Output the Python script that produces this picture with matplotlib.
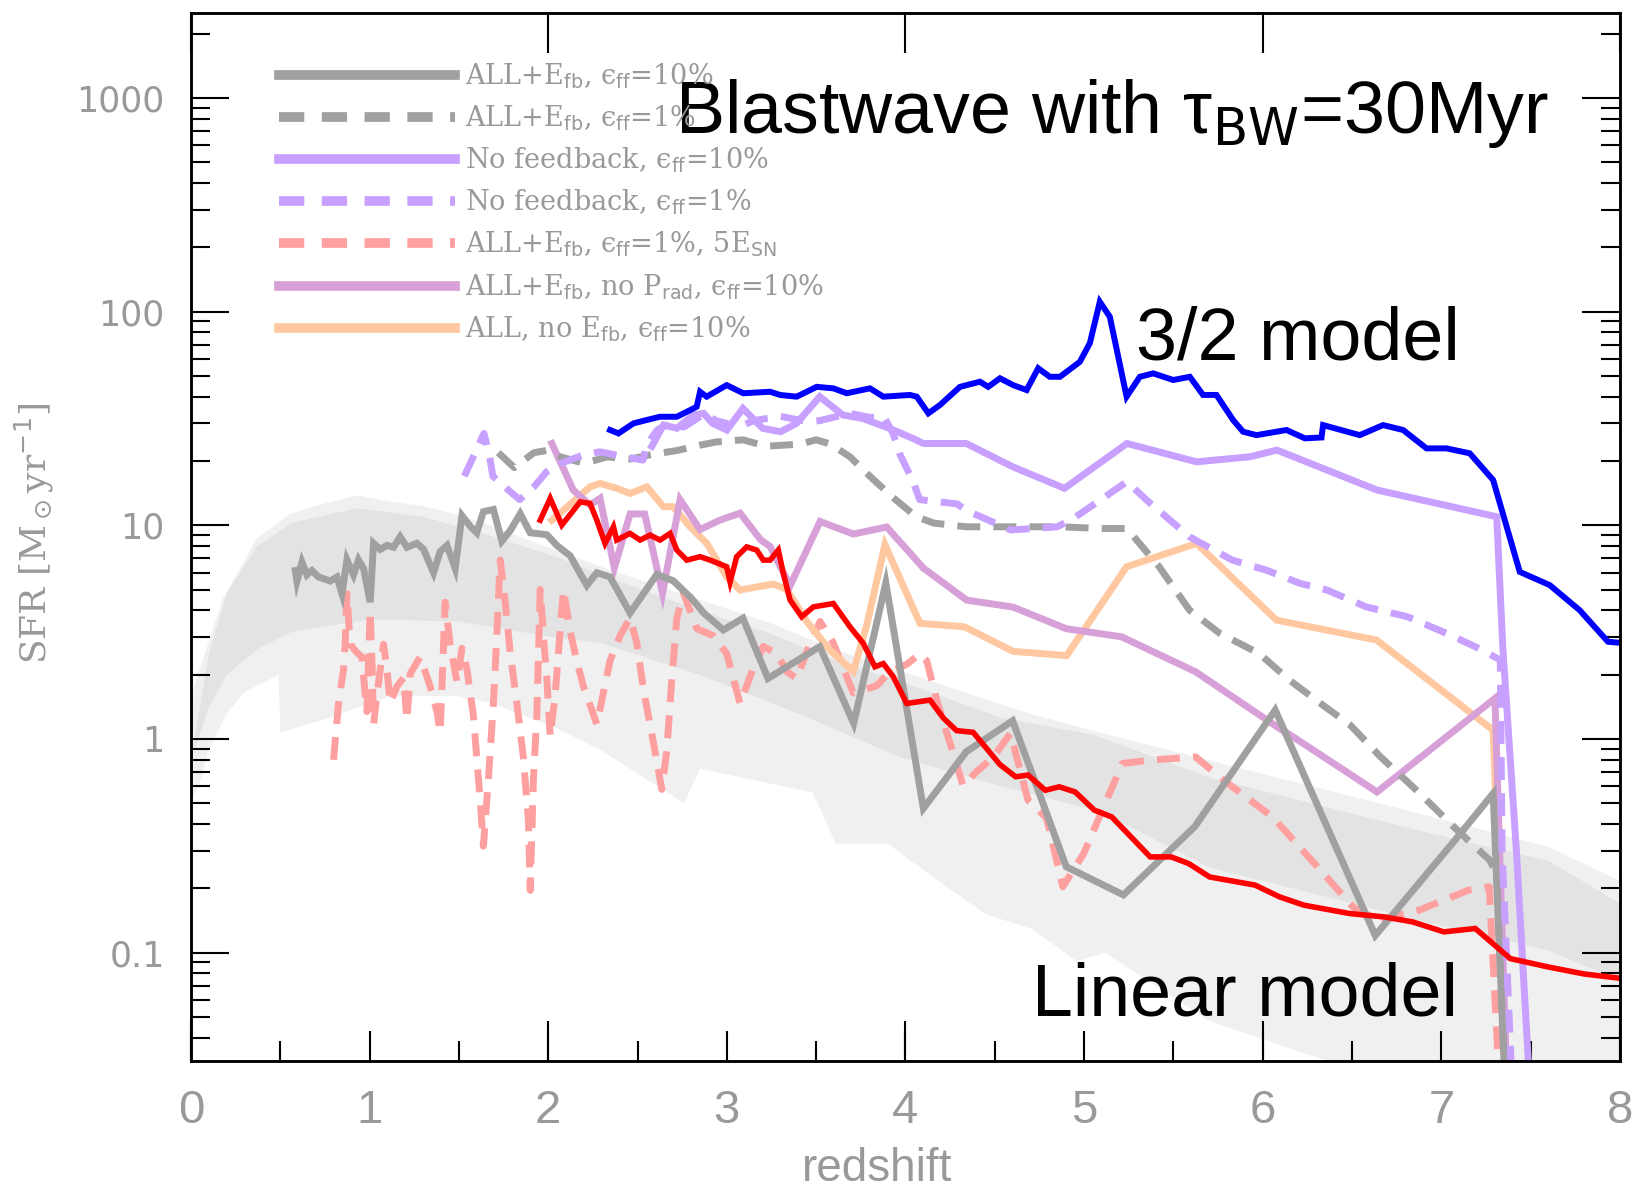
import numpy as np
import matplotlib.pyplot as plt
from matplotlib.lines import Line2D
from matplotlib.ticker import FixedLocator, LogLocator, NullFormatter, FormatStrFormatter

# star formation histories: redshift and log10(SFR / Msun yr^-1) for each run

# ALL+E_fb, eps_ff = 10%
z_fb10 = [0.584, 0.593, 0.621, 0.649, 0.677, 0.714, 0.779, 0.817, 0.845, 0.873,
          0.910, 0.938, 0.966, 1.003, 1.022, 1.059, 1.097, 1.134, 1.171, 1.209,
          1.265, 1.302, 1.358, 1.395, 1.433, 1.479, 1.517, 1.563, 1.600, 1.637,
          1.693, 1.740, 1.787, 1.843, 1.899, 1.992, 2.048, 2.123, 2.216, 2.272,
          2.346, 2.458, 2.608, 2.70, 2.80, 2.87, 2.98, 3.09, 3.23, 3.52,
          3.71, 3.89, 4.10, 4.34, 4.60, 4.90, 5.22, 5.62, 6.07, 6.63,
          7.09, 7.29, 7.36]
lsfr_fb10 = [0.788, 0.739, 0.828, 0.768, 0.788, 0.758, 0.739, 0.758, 0.680, 0.838,
             0.768, 0.838, 0.798, 0.640, 0.916, 0.887, 0.906, 0.897, 0.946, 0.897,
             0.916, 0.887, 0.778, 0.877, 0.906, 0.798, 1.045, 0.995, 0.965, 1.064,
             1.074, 0.926, 0.975, 1.054, 0.965, 0.956, 0.906, 0.857, 0.719, 0.778,
             0.758, 0.59, 0.77, 0.74, 0.66, 0.59, 0.51, 0.565, 0.283, 0.432,
             0.073, 0.73, -0.325, -0.06, 0.085, -0.598, -0.73, -0.41, 0.135, -0.92,
             -0.46, -0.255, -1.7]

# ALL+E_fb, eps_ff = 1%
z_fb1 = [1.72, 1.81, 1.92, 1.99, 2.07, 2.20, 2.33, 2.46, 2.57, 2.72,
         2.85, 2.94, 3.09, 3.22, 3.41, 3.50, 3.58, 3.69, 3.80, 3.93,
         4.06, 4.16, 4.34, 4.59, 4.87, 5.09, 5.24, 5.31, 5.42, 5.59,
         5.76, 5.98, 6.15, 6.35, 6.49, 6.66, 6.88, 7.07, 7.27, 7.31, 7.36]
lsfr_fb1 = [1.34, 1.27, 1.34, 1.35, 1.32, 1.29, 1.32, 1.31, 1.33, 1.35,
            1.375, 1.39, 1.40, 1.37, 1.38, 1.40, 1.38, 1.32, 1.23, 1.13,
            1.04, 1.01, 0.993, 0.993, 0.993, 0.985, 0.985, 0.915, 0.806, 0.603,
            0.494, 0.40, 0.275, 0.15, 0.065, -0.084, -0.255, -0.412, -0.567, -0.63, -1.7]

# no feedback, eps_ff = 10%
z_nofb10 = [2.58, 2.645, 2.72, 2.81, 2.87, 2.92, 3.00, 3.09, 3.20, 3.30,
            3.39, 3.52, 3.65, 3.76, 3.91, 4.04, 4.10, 4.34, 4.60, 4.89,
            5.24, 5.63, 5.93, 6.08, 6.64, 7.31, 7.345, 7.42, 7.50]
lsfr_nofb10 = [1.37, 1.469, 1.454, 1.516, 1.524, 1.477, 1.446, 1.547, 1.454, 1.438,
               1.477, 1.602, 1.516, 1.500, 1.454, 1.407, 1.383, 1.383, 1.274, 1.173,
               1.383, 1.297, 1.321, 1.352, 1.165, 1.04, 0.416, -0.52, -1.7]

# no feedback, eps_ff = 1%
z_nofb1 = [1.53, 1.58, 1.64, 1.67, 1.69, 1.77, 1.84, 1.92, 1.99, 2.07,
           2.20, 2.29, 2.37, 2.53, 2.55, 2.61, 2.66, 2.76, 2.87, 2.94,
           3.07, 3.15, 3.30, 3.45, 3.52, 3.69, 3.80, 3.88, 3.93, 3.97,
           4.04, 4.08, 4.29, 4.34, 4.59, 4.85, 4.94, 5.24, 5.35, 5.59,
           5.83, 6.02, 6.21, 6.36, 6.58, 6.81, 7.03, 7.23, 7.33, 7.34, 7.40]
lsfr_nofb1 = [1.23, 1.32, 1.43, 1.33, 1.23, 1.17, 1.12, 1.18, 1.25, 1.29,
              1.33, 1.344, 1.33, 1.305, 1.375, 1.446, 1.469, 1.46, 1.52, 1.49,
              1.46, 1.49, 1.51, 1.485, 1.49, 1.524, 1.505, 1.508, 1.43, 1.33,
              1.21, 1.12, 1.10, 1.07, 0.978, 0.993, 1.032, 1.204, 1.118, 0.946,
              0.837, 0.790, 0.728, 0.697, 0.618, 0.572, 0.494, 0.416, 0.369, -0.52, -1.7]

# ALL+E_fb, eps_ff = 1%, 5 E_SN
z_5sn = [0.798, 0.826, 0.854, 0.863, 0.873, 0.891, 0.929, 0.957, 0.975, 0.985,
         1.003, 1.013, 1.022, 1.041, 1.078, 1.097, 1.115, 1.153, 1.190, 1.209,
         1.227, 1.283, 1.339, 1.377, 1.395, 1.423, 1.451, 1.489, 1.517, 1.545,
         1.581, 1.619, 1.637, 1.665, 1.693, 1.712, 1.731, 1.759, 1.787, 1.824,
         1.861, 1.889, 1.899, 1.917, 1.936, 1.955, 1.973, 1.992, 2.011, 2.039,
         2.057, 2.085, 2.123, 2.160, 2.197, 2.272, 2.346, 2.402, 2.458, 2.496,
         2.533, 2.589, 2.636, 2.664, 2.692, 2.720, 2.757, 2.832, 2.925, 2.999,
         3.074, 3.148, 3.204, 3.279, 3.335, 3.391, 3.466, 3.522, 3.596, 3.708,
         3.839, 3.913, 4.007, 4.081, 4.119, 4.175, 4.249, 4.323, 4.398, 4.491,
         4.588, 4.686, 4.790, 4.881, 4.998, 5.214, 5.370, 5.625, 5.781, 6.055,
         6.290, 6.505, 6.642, 6.877, 7.151, 7.268, 7.33]
lsfr_5sn = [-0.098, 0.168, 0.325, 0.443, 0.680, 0.443, 0.404, 0.384, 0.207, 0.128,
            0.601, 0.364, 0.069, 0.207, 0.443, 0.325, 0.168, 0.246, 0.286, 0.088,
            0.305, 0.384, 0.246, 0.128, 0.030, 0.640, 0.443, 0.266, 0.424, 0.325,
            0.108, -0.286, -0.502, -0.187, 0.168, 0.483, 0.838, 0.640, 0.404, 0.168,
            -0.088, -0.384, -0.709, -0.187, 0.108, 0.699, 0.483, 0.286, 0.010, 0.207,
            0.404, 0.699, 0.502, 0.365, 0.246, 0.069, 0.366, 0.483, 0.566, 0.449,
            0.232, -0.019, -0.236, -0.052, 0.282, 0.566, 0.683, 0.516, 0.483, 0.399,
            0.165, 0.332, 0.433, 0.399, 0.316, 0.282, 0.449, 0.550, 0.449, 0.215,
            0.249, 0.316, 0.349, 0.399, 0.366, 0.182, -0.019, -0.220, -0.153, -0.086,
            0.026, -0.287, -0.370, -0.692, -0.536, -0.115, -0.099, -0.084, -0.193, -0.365,
            -0.583, -0.786, -0.848, -0.801, -0.708, -0.692, -1.7]

# ALL+E_fb, no P_rad, eps_ff = 10%
z_noprad = [2.02, 2.14, 2.234, 2.29, 2.37, 2.458, 2.54, 2.64, 2.738, 2.85,
            2.96, 3.074, 3.19, 3.242, 3.354, 3.522, 3.708, 3.895, 4.10, 4.342,
            4.603, 4.90, 5.21, 5.625, 6.094, 6.17, 6.64, 7.30, 7.37]
lsfr_noprad = [1.383, 1.165, 1.095, 1.126, 0.80, 1.053, 1.053, 0.682, 1.12, 0.98,
               1.024, 1.057, 0.931, 0.901, 0.717, 1.018, 0.959, 0.992, 0.80, 0.65,
               0.617, 0.516, 0.478, 0.314, 0.049, 0.01, -0.248, 0.19, -1.7]

# ALL, no E_fb, eps_ff = 10%
z_noefb = [2.02, 2.085, 2.234, 2.29, 2.384, 2.458, 2.552, 2.645, 2.70, 2.794,
           2.888, 2.999, 3.074, 3.26, 3.335, 3.447, 3.577, 3.708, 3.783, 3.885,
           4.081, 4.33, 4.603, 4.902, 5.238, 5.63, 6.077, 6.637, 7.29, 7.37]
lsfr_noefb = [1.024, 1.071, 1.18, 1.196, 1.173, 1.149, 1.18, 1.087, 1.087, 0.993,
              0.915, 0.759, 0.697, 0.725, 0.70, 0.55, 0.416, 0.316, 0.533, 0.909,
              0.541, 0.525, 0.41, 0.39, 0.806, 0.915, 0.556, 0.463, 0.041, -1.7]

# blastwave, tau_BW = 30 Myr, 3/2 model
z_bw32 = [2.346, 2.393, 2.477, 2.552, 2.626, 2.720, 2.794, 2.831, 2.850, 2.887,
          2.999, 3.092, 3.242, 3.298, 3.391, 3.503, 3.596, 3.671, 3.801, 3.876,
          4.025, 4.063, 4.128, 4.193, 4.305, 4.417, 4.463, 4.529, 4.603, 4.678,
          4.743, 4.808, 4.865, 4.976, 5.032, 5.088, 5.144, 5.238, 5.312, 5.387,
          5.499, 5.592, 5.666, 5.741, 5.834, 5.890, 5.965, 6.133, 6.236, 6.329,
          6.338, 6.543, 6.674, 6.786, 6.917, 7.029, 7.159, 7.290, 7.439, 7.607,
          7.774, 7.933, 8.0]
lsfr_bw32 = [1.446, 1.430, 1.477, 1.493, 1.508, 1.508, 1.539, 1.555, 1.625, 1.602,
             1.656, 1.618, 1.625, 1.610, 1.602, 1.648, 1.641, 1.618, 1.641, 1.602,
             1.610, 1.602, 1.524, 1.563, 1.648, 1.672, 1.648, 1.688, 1.656, 1.633,
             1.735, 1.695, 1.695, 1.765, 1.852, 2.046, 1.976, 1.602, 1.695, 1.711,
             1.680, 1.695, 1.610, 1.610, 1.493, 1.438, 1.422, 1.446, 1.407, 1.411,
             1.469, 1.422, 1.469, 1.446, 1.360, 1.360, 1.337, 1.212, 0.782, 0.720,
             0.603, 0.455, 0.450]

# blastwave, tau_BW = 30 Myr, linear model
z_bwlin = [1.955, 2.011, 2.076, 2.179, 2.234, 2.272, 2.318, 2.365, 2.383, 2.458,
           2.514, 2.570, 2.626, 2.682, 2.720, 2.776, 2.850, 2.906, 2.999, 3.018,
           3.055, 3.111, 3.167, 3.204, 3.242, 3.288, 3.316, 3.354, 3.419, 3.484,
           3.596, 3.689, 3.764, 3.829, 3.876, 3.932, 4.007, 4.137, 4.212, 4.286,
           4.379, 4.529, 4.617, 4.686, 4.783, 4.861, 4.950, 5.057, 5.155, 5.370,
           5.487, 5.585, 5.703, 5.957, 6.094, 6.231, 6.486, 6.681, 6.838, 7.014,
           7.190, 7.386, 7.597, 7.80, 8.0]
lsfr_bwlin = [1.024, 1.126, 1.001, 1.110, 1.102, 1.024, 0.915, 0.993, 0.931, 0.962,
              0.931, 0.954, 0.931, 0.962, 0.884, 0.837, 0.853, 0.837, 0.806, 0.735,
              0.853, 0.899, 0.884, 0.837, 0.837, 0.884, 0.775, 0.650, 0.572, 0.618,
              0.634, 0.525, 0.447, 0.338, 0.353, 0.291, 0.166, 0.182, 0.098, 0.039,
              0.031, -0.12, -0.177, -0.169, -0.240, -0.224, -0.248, -0.333, -0.365, -0.552,
              -0.552, -0.583, -0.646, -0.684, -0.739, -0.778, -0.817, -0.833, -0.856, -0.903,
              -0.887, -1.028, -1.067, -1.10, -1.12]

# observational envelopes (outer and inner), upper and lower edges
env_out_up_z = [0.0, 0.07, 0.18, 0.37, 0.56, 0.74, 0.93, 1.12, 1.30, 1.49, 1.68, 1.86, 2.05,
                2.35, 2.85, 3.22, 3.60, 3.97, 4.34, 4.71, 5.09, 5.70, 6.88, 7.60, 8.0]
env_out_up = [0.2, 0.38, 0.66, 0.94, 1.055, 1.10, 1.14, 1.11, 1.09, 1.05, 1.0, 0.94, 0.88,
              0.79, 0.65, 0.55, 0.42, 0.32, 0.215, 0.115, 0.03, -0.10, -0.35, -0.505, -0.665]
env_out_lo_z = [0.0, 0.05, 0.1, 0.2, 0.3, 0.49, 0.5, 0.74, 1.115, 1.49, 1.675, 2.05, 2.29,
                2.76, 2.85, 3.48, 3.61, 3.90, 4.16, 4.45, 4.71, 4.96, 5.12, 5.70, 6.55, 8.0]
env_out_lo = [-0.3, -0.2, -0.05, 0.12, 0.22, 0.30, 0.03, 0.09, 0.20, 0.20, 0.17, 0.05, -0.05,
              -0.30, -0.14, -0.25, -0.49, -0.49, -0.65, -0.82, -0.89, -1.04, -1.0, -1.32, -1.56, -1.8]
env_in_up_z = [0.02, 0.1, 0.2, 0.37, 0.56, 0.93, 1.3, 1.68, 2.05, 2.29,
               2.85, 3.22, 3.60, 3.97, 4.53, 5.05, 5.70, 6.88, 7.60, 8.0]
env_in_up = [0.0, 0.4, 0.68, 0.90, 1.01, 1.08, 1.04, 0.95, 0.85, 0.77,
             0.60, 0.50, 0.37, 0.27, 0.10, 0.02, -0.18, -0.43, -0.57, -0.77]
env_in_lo_z = [0.02, 0.1, 0.2, 0.37, 0.56, 1.0, 1.5, 2.0, 2.29,
               2.85, 3.41, 3.97, 4.53, 5.09, 5.70, 6.88, 7.60, 8.0]
env_in_lo = [-0.05, 0.15, 0.3, 0.42, 0.50, 0.56, 0.55, 0.48, 0.45,
             0.30, 0.115, -0.086, -0.22, -0.34, -0.60, -0.85, -0.99, -1.13]

labels = [r"ALL+E$_{\rm fb}$, ϵ$_{\rm ff}$=10%",
          r"ALL+E$_{\rm fb}$, ϵ$_{\rm ff}$=1%",
          r"No feedback, ϵ$_{\rm ff}$=10%",
          r"No feedback, ϵ$_{\rm ff}$=1%",
          r"ALL+E$_{\rm fb}$, ϵ$_{\rm ff}$=1%, 5E$_{\rm SN}$",
          r"ALL+E$_{\rm fb}$, no P$_{\rm rad}$, ϵ$_{\rm ff}$=10%",
          r"ALL, no E$_{\rm fb}$, ϵ$_{\rm ff}$=10%"]

grey = '#a0a0a0'
lilac = '#c8a0ff'
pink = '#ffa0a0'
orchid = '#d8a0d8'
peach = '#ffc8a0'
txt = '#999999'
dash = (0, (3.3, 1.9))
legdash = (0, (2.6, 1.8))

fig = plt.figure(figsize=(16.34, 11.91), dpi=100)
ax = fig.add_axes([0.1169, 0.1092, 0.8745, 0.8803])
ax.set_yscale('log')

ax.fill(np.r_[env_out_up_z, env_out_lo_z[::-1]],
        10 ** np.r_[env_out_up, env_out_lo[::-1]], color='#f0f0f0', lw=0, zorder=0)
ax.fill(np.r_[env_in_up_z, env_in_lo_z[::-1]],
        10 ** np.r_[env_in_up, env_in_lo[::-1]], color='#e3e3e3', lw=0, zorder=0.5)

def run(z, lsfr, **kw):
    ax.plot(z, 10 ** np.asarray(lsfr), solid_joinstyle='miter', **kw)

run(z_5sn, lsfr_5sn, color=pink, lw=5, ls=dash)
run(z_noefb, lsfr_noefb, color=peach, lw=5)
run(z_noprad, lsfr_noprad, color=orchid, lw=5)
run(z_fb1, lsfr_fb1, color=grey, lw=5, ls=dash)
run(z_fb10, lsfr_fb10, color=grey, lw=5)
run(z_nofb1, lsfr_nofb1, color=lilac, lw=5, ls=dash)
run(z_nofb10, lsfr_nofb10, color=lilac, lw=5)
run(z_bwlin, lsfr_bwlin, color='#ff0000', lw=4)
run(z_bw32, lsfr_bw32, color='#0000ff', lw=4.3)

ax.set_xlim(0, 8)
ax.set_ylim(10 ** -1.507, 10 ** 3.40)

ax.xaxis.set_major_locator(FixedLocator(range(9)))
ax.xaxis.set_minor_locator(FixedLocator(np.arange(0.5, 8, 1.0)))
ax.yaxis.set_major_locator(FixedLocator([0.1, 1, 10, 100, 1000]))
ax.yaxis.set_minor_locator(LogLocator(base=10, subs=np.arange(2, 10), numticks=30))
ax.yaxis.set_minor_formatter(NullFormatter())
ax.yaxis.set_major_formatter(FormatStrFormatter('%g'))

ax.tick_params(axis='x', which='major', direction='in', length=21.6, width=1.5,
               top=True, pad=20, labelsize=34, labelcolor=txt)
ax.tick_params(axis='x', which='minor', direction='in', length=14.4, width=1.5, top=True)
ax.tick_params(axis='y', which='major', direction='in', length=27.7, width=1.5,
               right=True, pad=19, labelsize=25, labelcolor=txt)
ax.tick_params(axis='y', which='minor', direction='in', length=13.7, width=1.5, right=True)
for t in ax.get_xticklabels():
    t.set_family(['Liberation Sans Narrow', 'Liberation Sans'])
for sp in ax.spines.values():
    sp.set_linewidth(1.8)

# longer ticks every second redshift unit
ax2 = ax.twiny()
ax2.set_xlim(0, 8)
ax2.set_xticks([0, 2, 4, 6, 8])
ax2.tick_params(axis='x', direction='in', length=29, width=1.5, top=True, bottom=True,
                labeltop=False, labelbottom=False)
for sp in ax2.spines.values():
    sp.set_linewidth(1.8)

handles = [Line2D([], [], color=grey, lw=7),
           Line2D([], [], color=grey, lw=7, ls=legdash),
           Line2D([], [], color=lilac, lw=7),
           Line2D([], [], color=lilac, lw=7, ls=legdash),
           Line2D([], [], color=pink, lw=7, ls=legdash),
           Line2D([], [], color=orchid, lw=7),
           Line2D([], [], color=peach, lw=7)]
leg = ax.legend(handles, labels, loc='upper left', bbox_to_anchor=(0.0616, 0.9537),
                frameon=False, borderpad=0, borderaxespad=0, handlelength=6.5,
                handletextpad=0.37, labelspacing=0.47,
                prop={'family': ['DejaVu Serif', 'DejaVu Sans'], 'size': 19.5})
for t in leg.get_texts():
    t.set_color(txt)

big = dict(transform=ax.transAxes, fontsize=53, family='Liberation Sans',
           va='baseline', ha='left', color='black')
ax.text(0.3387, 0.8847, r"Blastwave with τ$_{\rm BW}$=30Myr", **big)
ax.text(0.6612, 0.669, "3/2 model", **big)
ax.text(0.5882, 0.0429, "Linear model", **big)

fig.text(0.0208, 0.5525, r"SFR [M$_\odot$yr$^{-1}$]", rotation=90, ha='center', va='center',
         fontsize=26, family='DejaVu Serif', color=txt)
fig.text(0.537, 0.0185, "redshift", ha='center', va='center', fontsize=33,
         family=['Liberation Sans Narrow', 'Liberation Sans'], color=txt)

fig.savefig('out.png', dpi=100)
